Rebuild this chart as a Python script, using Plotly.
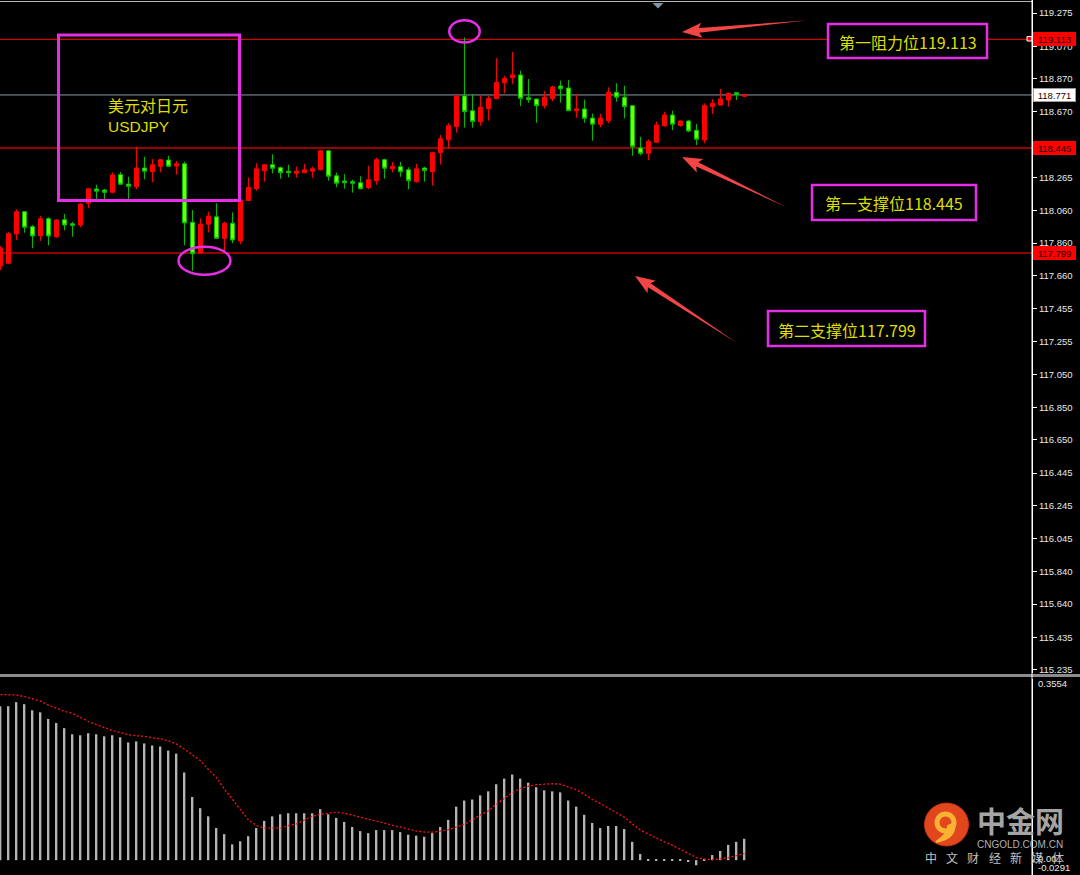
import math
import plotly.graph_objects as go

# ---------------- data ----------------
opens = [117.719, 117.736, 117.916, 118.053, 117.961, 117.905, 118.010, 117.899, 118.004, 117.979,
         117.971, 118.105, 118.193, 118.186, 118.172, 118.281, 118.223, 118.207, 118.322, 118.299,
         118.332, 118.371, 118.334, 118.348, 117.988, 117.799, 117.976, 118.022, 117.889, 117.982,
         117.873, 118.122, 118.194, 118.305, 118.342, 118.324, 118.302, 118.289, 118.293, 118.302,
         118.311, 118.428, 118.274, 118.242, 118.238, 118.231, 118.201, 118.244, 118.373, 118.317,
         118.330, 118.311, 118.238, 118.322, 118.299, 118.416, 118.495, 118.576, 118.765, 118.674,
         118.607, 118.687, 118.748, 118.846, 118.877, 118.894, 118.754, 118.746, 118.705, 118.748,
         118.826, 118.814, 118.674, 118.685, 118.629, 118.591, 118.613, 118.787, 118.757, 118.705,
         118.445, 118.412, 118.480, 118.582, 118.648, 118.584, 118.611, 118.554, 118.494, 118.699,
         118.709, 118.740, 118.785, 118.763]
highs = [117.842, 117.928, 118.068, 118.055, 117.971, 118.027, 118.019, 118.006, 118.039, 117.990,
         118.105, 118.196, 118.219, 118.193, 118.295, 118.297, 118.268, 118.453, 118.391, 118.377,
         118.375, 118.397, 118.365, 118.361, 118.063, 118.012, 118.053, 118.105, 117.992, 118.049,
         118.127, 118.263, 118.351, 118.344, 118.406, 118.330, 118.342, 118.330, 118.348, 118.330,
         118.433, 118.433, 118.293, 118.283, 118.250, 118.271, 118.336, 118.385, 118.379, 118.359,
         118.359, 118.326, 118.348, 118.330, 118.422, 118.525, 118.597, 118.767, 119.125, 118.775,
         118.766, 118.766, 118.998, 118.888, 119.035, 118.920, 118.869, 118.748, 118.795, 118.828,
         118.859, 118.863, 118.774, 118.742, 118.656, 118.656, 118.818, 118.843, 118.828, 118.709,
         118.514, 118.498, 118.607, 118.668, 118.674, 118.613, 118.617, 118.592, 118.720, 118.746,
         118.808, 118.787, 118.787, 118.776]
lows = [117.694, 117.731, 117.879, 117.924, 117.828, 117.873, 117.846, 117.893, 117.940, 117.899,
        117.957, 118.074, 118.125, 118.121, 118.166, 118.220, 118.121, 118.191, 118.252, 118.234,
        118.295, 118.330, 118.281, 117.846, 117.690, 117.797, 117.926, 117.887, 117.811, 117.859,
        117.853, 118.119, 118.182, 118.238, 118.289, 118.256, 118.265, 118.262, 118.289, 118.262,
        118.308, 118.244, 118.203, 118.194, 118.170, 118.192, 118.192, 118.219, 118.256, 118.295,
        118.268, 118.191, 118.231, 118.238, 118.213, 118.343, 118.443, 118.539, 118.570, 118.570,
        118.582, 118.613, 118.746, 118.781, 118.837, 118.703, 118.723, 118.600, 118.687, 118.732,
        118.723, 118.672, 118.631, 118.600, 118.490, 118.572, 118.597, 118.730, 118.627, 118.397,
        118.400, 118.371, 118.478, 118.576, 118.555, 118.576, 118.543, 118.463, 118.474, 118.654,
        118.705, 118.699, 118.740, 118.757]
closes = [117.830, 117.918, 118.053, 117.957, 117.904, 118.010, 117.904, 118.002, 117.971, 117.969,
          118.100, 118.194, 118.179, 118.172, 118.279, 118.222, 118.209, 118.322, 118.302, 118.342,
          118.373, 118.332, 118.348, 117.984, 117.795, 117.976, 118.025, 117.889, 117.982, 117.879,
          118.125, 118.202, 118.317, 118.342, 118.320, 118.293, 118.293, 118.302, 118.311, 118.317,
          118.428, 118.271, 118.228, 118.231, 118.228, 118.194, 118.250, 118.373, 118.320, 118.332,
          118.299, 118.244, 118.317, 118.306, 118.416, 118.501, 118.582, 118.765, 118.668, 118.607,
          118.695, 118.750, 118.849, 118.873, 118.894, 118.750, 118.742, 118.705, 118.758, 118.820,
          118.809, 118.674, 118.685, 118.627, 118.591, 118.629, 118.787, 118.757, 118.699, 118.453,
          118.412, 118.484, 118.586, 118.648, 118.591, 118.611, 118.549, 118.498, 118.705, 118.720,
          118.746, 118.781, 118.773, 118.771]

macd_hist = [0.302, 0.302, 0.310, 0.306, 0.294, 0.290, 0.277, 0.269, 0.259, 0.247,
             0.245, 0.249, 0.247, 0.243, 0.245, 0.241, 0.231, 0.233, 0.229, 0.225,
             0.223, 0.215, 0.209, 0.172, 0.124, 0.102, 0.086, 0.063, 0.051, 0.031,
             0.037, 0.047, 0.063, 0.077, 0.086, 0.090, 0.092, 0.092, 0.092, 0.092,
             0.100, 0.090, 0.083, 0.075, 0.065, 0.057, 0.053, 0.059, 0.059, 0.059,
             0.055, 0.050, 0.048, 0.046, 0.053, 0.065, 0.079, 0.105, 0.117, 0.119,
             0.127, 0.135, 0.149, 0.160, 0.168, 0.160, 0.152, 0.143, 0.137, 0.135,
             0.133, 0.117, 0.105, 0.089, 0.073, 0.063, 0.067, 0.067, 0.061, 0.036,
             0.012, 0.001, 0.002, 0.002, 0.002, 0.002, -0.002, -0.010, 0.001, 0.010,
             0.018, 0.030, 0.036, 0.042]
macd_signal = [0.325, 0.325, 0.324, 0.321, 0.316, 0.312, 0.304, 0.298, 0.292, 0.288,
               0.280, 0.272, 0.266, 0.260, 0.254, 0.250, 0.246, 0.244, 0.243, 0.240,
               0.238, 0.234, 0.228, 0.218, 0.207, 0.195, 0.178, 0.162, 0.139, 0.119,
               0.099, 0.079, 0.068, 0.063, 0.063, 0.063, 0.068, 0.071, 0.079, 0.086,
               0.090, 0.092, 0.094, 0.092, 0.088, 0.084, 0.081, 0.076, 0.073, 0.069,
               0.065, 0.061, 0.057, 0.055, 0.055, 0.057, 0.060, 0.065, 0.071, 0.079,
               0.089, 0.097, 0.109, 0.122, 0.132, 0.141, 0.145, 0.148, 0.149, 0.150,
               0.149, 0.144, 0.138, 0.129, 0.119, 0.111, 0.102, 0.094, 0.084, 0.071,
               0.059, 0.051, 0.043, 0.036, 0.029, 0.021, 0.012, 0.005, 0.002, 0.001,
               0.003, 0.005, 0.009, 0.013]

price_ticks = [119.275, 119.070, 118.870, 118.670, 118.265, 118.060, 117.860, 117.660, 117.455, 117.255,
               117.050, 116.850, 116.650, 116.445, 116.245, 116.045, 115.840, 115.640, 115.435, 115.235]
price_range = [115.216, 119.355]
macd_range = [-0.0291, 0.3554]

resistance_1 = 119.113
support_1 = 118.445
support_2 = 117.799
last_price = closes[-1]

title_cn = "美元对日元"
title_en = "USDJPY"
level_texts = ["第一阻力位119.113", "第一支撑位118.445", "第二支撑位117.799"]

# ---------------- geometry helpers (figure pixels -> paper) ----------------
W, H = 1080, 875
AXIS_X = 1032
MAIN_BOTTOM = 673
MACD_TOP = 679


def px(x):
    return x / W


def py(y):
    return 1 - y / H


idx = list(range(len(closes)))
x_range = [-0.06, AXIS_X / 8 - 0.06]

MAGENTA = "#e62ee6"
YELLOW = "#dede00"
ARROW_RED = "#f24646"
CJK = "Noto Sans CJK SC"
LAT = "Liberation Sans"

fig = go.Figure()

fig.add_trace(go.Candlestick(
    x=idx, open=opens, high=highs, low=lows, close=closes,
    increasing=dict(line=dict(color="#ff0000", width=1), fillcolor="#ff0000"),
    decreasing=dict(line=dict(color="#00c000", width=1), fillcolor="#7cfc00"),
    xaxis="x", yaxis="y", showlegend=False,
))

fig.add_trace(go.Bar(
    x=idx, y=macd_hist, width=0.22,
    marker=dict(color="#b4b4b4", line=dict(width=0)),
    xaxis="x2", yaxis="y2", showlegend=False,
))
fig.add_trace(go.Scatter(
    x=idx, y=macd_signal, mode="lines",
    line=dict(color="#ff1010", width=1.3, dash="2px,2px"),
    xaxis="x2", yaxis="y2", showlegend=False,
))

shapes = []
annotations = []

# horizontal price levels
for level, color, width in [(resistance_1, "#ff0000", 1),
                            (support_1, "#c80000", 1.5),
                            (support_2, "#c00000", 1.5),
                            (last_price, "#8a9aa8", 1)]:
    shapes.append(dict(type="line", xref="paper", yref="y", x0=0, x1=px(AXIS_X),
                       y0=level, y1=level, line=dict(color=color, width=width), layer="below"))

# small marker at the end of the resistance line
shapes.append(dict(type="rect", xref="paper", yref="paper",
                   x0=px(1027), x1=px(1032), y0=py(41), y1=py(36.5),
                   line=dict(color="#ffffff", width=1), fillcolor="#ff0000"))

# panel separator and frame lines
shapes.append(dict(type="line", xref="paper", yref="paper", x0=0, x1=1,
                   y0=py(675.5), y1=py(675.5), line=dict(color="#8c8c8c", width=3)))
shapes.append(dict(type="line", xref="paper", yref="paper", x0=0, x1=px(AXIS_X),
                   y0=py(1.5), y1=py(1.5), line=dict(color="#b8b8b8", width=1)))
shapes.append(dict(type="line", xref="paper", yref="paper", x0=px(AXIS_X), x1=px(AXIS_X),
                   y0=0, y1=1, line=dict(color="#ffffff", width=1)))
# shift marker
shapes.append(dict(type="path", xref="paper", yref="paper",
                   path=f"M {px(652.5)},{py(3)} L {px(663.5)},{py(3)} L {px(658)},{py(8.5)} Z",
                   fillcolor="#7f98a8", line=dict(width=0)))

# title box
shapes.append(dict(type="rect", xref="paper", yref="paper",
                   x0=px(58.5), x1=px(239.5), y0=py(200.5), y1=py(35),
                   line=dict(color=MAGENTA, width=3)))
annotations.append(dict(xref="paper", yref="paper", x=px(106), y=py(105), xanchor="left",
                        yanchor="middle", text=title_cn, showarrow=False,
                        font=dict(family=CJK, size=16, color=YELLOW)))
annotations.append(dict(xref="paper", yref="paper", x=px(106), y=py(127), xanchor="left",
                        yanchor="middle", text=title_en, showarrow=False,
                        font=dict(family=LAT, size=15.5, color=YELLOW)))

# circles around the session high and the dip low
hi_i = highs.index(max(highs))
dip_start, dip_end = 20, 30
dip_lows = lows[dip_start:dip_end]
lo_i = dip_start + dip_lows.index(min(dip_lows))
shapes.append(dict(type="circle", xref="x", yref="y",
                   x0=hi_i - 1.9, x1=hi_i + 1.9,
                   y0=highs[hi_i] - 0.031, y1=highs[hi_i] + 0.105,
                   line=dict(color=MAGENTA, width=2.5)))
shapes.append(dict(type="circle", xref="x", yref="y",
                   x0=lo_i + 1.5 - 3.25, x1=lo_i + 1.5 + 3.25,
                   y0=lows[lo_i] - 0.024, y1=lows[lo_i] + 0.148,
                   line=dict(color=MAGENTA, width=2.5)))


def arrow(tx, ty, hx, hy, head_len=17, head_half=7.5, shaft_half=2.4):
    dx, dy = hx - tx, hy - ty
    length = math.hypot(dx, dy)
    ux, uy = dx / length, dy / length
    nx, ny = -uy, ux
    bx, by = hx - ux * head_len, hy - uy * head_len
    nb = (bx - ux * 3, by - uy * 3)
    pts = [(tx, ty),
           (bx + nx * shaft_half, by + ny * shaft_half),
           (nb[0] + nx * head_half, nb[1] + ny * head_half),
           (hx, hy),
           (nb[0] - nx * head_half, nb[1] - ny * head_half),
           (bx - nx * shaft_half, by - ny * shaft_half)]
    path = "M " + " L ".join(f"{px(x):.5f},{py(y):.5f}" for x, y in pts) + " Z"
    return dict(type="path", xref="paper", yref="paper", path=path,
                fillcolor=ARROW_RED, line=dict(width=0))


shapes.append(arrow(806, 20.5, 682, 32))
shapes.append(arrow(786, 207, 682, 157))
shapes.append(arrow(737, 343, 635, 276))

# level callout boxes
boxes = [(828, 24, 987, 58), (812, 185, 976, 220), (768, 311, 925, 346)]
for (x0, y0, x1, y1), txt in zip(boxes, level_texts):
    shapes.append(dict(type="rect", xref="paper", yref="paper",
                       x0=px(x0), x1=px(x1), y0=py(y1), y1=py(y0),
                       line=dict(color=MAGENTA, width=2.5), fillcolor="#000000"))
    annotations.append(dict(xref="paper", yref="paper", x=px((x0 + x1) / 2), y=py((y0 + y1) / 2 + 1),
                            xanchor="center", yanchor="middle", text=txt, showarrow=False,
                            font=dict(family=CJK, size=16, color=YELLOW)))

# price tags on the axis
for level, bg, border in [(resistance_1, "#ff0000", "#ff0000"),
                          (support_1, "#ff0000", "#ff0000"),
                          (support_2, "#ff0000", "#ff0000"),
                          (last_price, "#ffffff", "#9a9a9a")]:
    annotations.append(dict(xref="paper", yref="y", x=px(1033), y=level, xanchor="left",
                            yanchor="middle", text=f"{level:.3f}", showarrow=False,
                            bgcolor=bg, bordercolor=border, borderwidth=1, borderpad=0.5,
                            width=40, align="center",
                            font=dict(family=LAT, size=9.5, color="#200000")))

# MACD scale labels
for txt, y in [("0.3554", 683), ("0.00", 858.5), ("-0.0291", 867.5)]:
    annotations.append(dict(xref="paper", yref="paper", x=px(1036), y=py(y), xanchor="left",
                            yanchor="middle", text=txt, showarrow=False,
                            font=dict(family=LAT, size=9.5, color="#e8e8e8")))

# watermark
shapes.append(dict(type="circle", xref="paper", yref="paper",
                   x0=px(924.5), x1=px(968.5), y0=py(846), y1=py(803),
                   fillcolor="#e2461c", line=dict(color="#c8321a", width=1)))
shapes.append(dict(type="circle", xref="paper", yref="paper",
                   x0=px(937), x1=px(954), y0=py(831), y1=py(814),
                   line=dict(color="#f9b233", width=5)))
shapes.append(dict(type="path", xref="paper", yref="paper",
                   path=(f"M {px(954)},{py(823)} Q {px(957)},{py(838)} {px(936)},{py(842)} "
                         f"Q {px(948)},{py(834)} {px(948)},{py(826)} Z"),
                   fillcolor="#f9b233", line=dict(color="#f9b233", width=2)))
annotations.append(dict(xref="paper", yref="paper", x=px(1020), y=py(820), xanchor="center",
                        yanchor="middle", text="<b>中金网</b>", showarrow=False,
                        font=dict(family=CJK, size=29, color="#a4a4a4")))
annotations.append(dict(xref="paper", yref="paper", x=px(1020), y=py(844.5), xanchor="center",
                        yanchor="middle", text="CNGOLD.COM.CN", showarrow=False,
                        font=dict(family=LAT, size=10, color="#b0b0b0")))
for k, ch in enumerate("中文财经新媒体"):
    annotations.append(dict(xref="paper", yref="paper", x=px(931 + 21.2 * k), y=py(857.5),
                            xanchor="center", yanchor="middle", text=ch, showarrow=False,
                            font=dict(family=CJK, size=12, color="#c0c0c0")))

axis_common = dict(showgrid=False, zeroline=False)

fig.update_layout(
    width=W, height=H, autosize=False,
    margin=dict(l=0, r=0, t=0, b=0, pad=0),
    paper_bgcolor="#000000", plot_bgcolor="#000000",
    showlegend=False, hovermode=False,
    xaxis=dict(domain=[0, px(AXIS_X)], range=x_range, visible=False,
               rangeslider=dict(visible=False), anchor="y", **axis_common),
    xaxis2=dict(domain=[0, px(AXIS_X)], range=x_range, visible=False,
                matches="x", anchor="y2", **axis_common),
    yaxis=dict(domain=[py(MAIN_BOTTOM), 1], range=price_range, side="right", anchor="x",
               tickvals=price_ticks, ticktext=[f"{v:.3f}" for v in price_ticks],
               ticks="outside", ticklen=4, tickcolor="#ffffff", tickwidth=1,
               showline=True, linecolor="#ffffff", linewidth=1, automargin=False,
               tickfont=dict(family=LAT, size=9.5, color="#e8e8e8"), **axis_common),
    yaxis2=dict(domain=[0, py(MACD_TOP)], range=macd_range, side="right", anchor="x2",
                showticklabels=False, ticks="", showline=True, linecolor="#ffffff",
                automargin=False, **axis_common),
    shapes=shapes,
    annotations=annotations,
)

fig.write_html("out.html", config={"displayModeBar": False})
